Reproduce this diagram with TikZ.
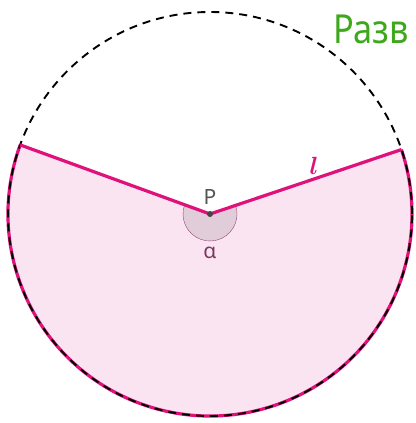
\documentclass[tikz,border=0pt]{standalone}
\usepackage{amsmath}
\usepackage{fontspec}
\setmainfont{Noto Sans}
\usepackage{xcolor}
\usetikzlibrary{calc}
\definecolor{rosa}{RGB}{222,18,122}
\definecolor{rosaclaro}{RGB}{251,228,241}
\definecolor{malva}{RGB}{225,205,218}
\definecolor{malvaborde}{RGB}{150,70,120}
\definecolor{verde}{RGB}{62,168,28}
\definecolor{gris}{RGB}{85,85,85}

\begin{document}
\begin{tikzpicture}[x=1pt,y=1pt,
    lado/.style={rosa, line width=3.2pt},
    rotulo/.style={font=\fontsize{21}{21}\selectfont}]
  \useasboundingbox (0,0) rectangle (415,423);
  \coordinate (P) at (210,209);
  \coordinate (A) at ($(P)+(160:202)$);
  \coordinate (B) at ($(P)+(18.6:202)$);
  % sector
  \fill[rosaclaro] (P) -- (A) arc[start angle=160, end angle=378.6, radius=202] -- cycle;
  \filldraw[fill=malva, draw=malvaborde, thin] (P) -- ++(160:27) arc[start angle=160, end angle=378.6, radius=27] -- cycle;
  \draw[lado] (A) arc[start angle=160, end angle=378.6, radius=202];
  \draw[line width=1.9pt, dash pattern=on 8pt off 6pt] (P) circle[radius=202];
  \draw[lado] (A) -- (P) -- (B);
  \node[circle, fill=gris!80!black, inner sep=0pt, minimum size=6pt] (dotP) at (P) {};
  % labels
  \node[rotulo, gris] (labelP) at (210,226) {P};
  \node[rotulo, malvaborde!80!black] (alfa) at (210,170) {α};
  \node[rosa, font=\fontsize{24}{24}\selectfont] (ele) at (314,257) {$\boldsymbol{l}$};
  \node[verde, anchor=base west, inner sep=0pt, font=\fontsize{40}{40}\selectfont] (titulo) at (333,379) {\scalebox{0.86}[1]{Разв}};
\end{tikzpicture}
\end{document}
